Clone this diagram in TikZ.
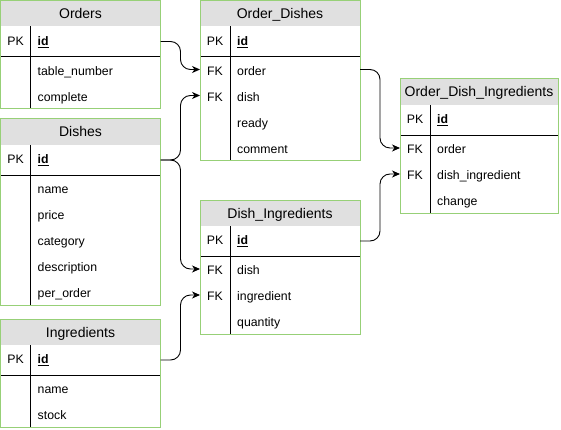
\documentclass[tikz,border=0pt]{standalone}
\usepackage{fontspec}
\setmainfont{Liberation Sans}
\usetikzlibrary{arrows.meta}
\definecolor{bordergreen}{RGB}{151,208,119}
\definecolor{hdrgray}{RGB}{224,224,224}
\tikzset{
  title/.style={font=\fontsize{14}{16}\selectfont, text height=10pt, text depth=0pt, inner sep=0pt},
  keytxt/.style={font=\fontsize{12.3}{14}\selectfont, text height=8.8pt, text depth=0pt, inner sep=0pt},
  fieldtxt/.style={keytxt, anchor=west},
  rowbox/.style={minimum height=26pt, inner sep=0pt, outer sep=0pt, draw=none},
  tblframe/.style={rectangle, draw=bordergreen, line width=1pt, inner sep=0pt, outer sep=0pt, anchor=north west},
  inner/.style={draw=black, line width=0.9pt},
  conn/.style={draw=black, line width=0.9pt, rounded corners=10pt, -{Stealth[length=8pt,width=7pt,inset=2.5pt]}},
}
\newcommand\ertable[6]{% name, x, top, width, title, nrows
  \pgfmathsetmacro\ertbot{#3+56+26*#6}
  \fill[hdrgray] (#2,#3) rectangle ++(#4,26);
  \draw[inner] (#2+30,#3+26) -- (#2+30,\ertbot);
  \draw[inner] (#2,#3+56) -- (#2+#4,#3+56);
  \node[tblframe, minimum width=#4, minimum height=\ertbot-#3] (#1) at (#2,#3) {};
  \node[title] (#1-title) at (#2+#4/2,#3+13) {#5};
}
% primary-key row: text centred on the row
\newcommand\erpkrow[4]{% name, x, centre y, width
  \node[rowbox, minimum width=#4] (#1) at (#2+#4/2,#3) {};
  \node[keytxt] (#1-key) at (#2+15,#3-0.5) {PK};
  \node[fieldtxt] (#1-name) at (#2+37,#3-0.5) {\underline{\textbf{id}}};
}
% field row: text sits slightly below the row centre
\newcommand\errow[6]{% name, x, centre y, width, key, field
  \node[rowbox, minimum width=#4] (#1) at (#2+#4/2,#3) {};
  \node[keytxt] (#1-key) at (#2+15,#3+1.5) {#5};
  \node[fieldtxt] (#1-name) at (#2+37,#3+1.5) {#6};
}
\begin{document}
\begin{tikzpicture}[x=1pt,y=-1pt]
\useasboundingbox (0,0) rectangle (561,430);

% Orders
\ertable{orders}{0.5}{0.5}{160}{Orders}{2}
\erpkrow{orders-id}{0.5}{41.5}{160}
\errow{orders-table_number}{0.5}{69.5}{160}{}{table\_number}
\errow{orders-complete}{0.5}{95.5}{160}{}{complete}

% Dishes
\ertable{dishes}{0.5}{119}{160}{Dishes}{5}
\erpkrow{dishes-id}{0.5}{160}{160}
\errow{dishes-name}{0.5}{188}{160}{}{name}
\errow{dishes-price}{0.5}{214}{160}{}{price}
\errow{dishes-category}{0.5}{240}{160}{}{category}
\errow{dishes-description}{0.5}{266}{160}{}{description}
\errow{dishes-per_order}{0.5}{292}{160}{}{per\_order}

% Ingredients
\ertable{ingr}{0.5}{319}{160}{Ingredients}{2}
\erpkrow{ingr-id}{0.5}{360}{160}
\errow{ingr-name}{0.5}{388}{160}{}{name}
\errow{ingr-stock}{0.5}{414}{160}{}{stock}

% Order_Dishes
\ertable{od}{200}{0.5}{160}{Order\_Dishes}{4}
\erpkrow{od-id}{200}{41.5}{160}
\errow{od-order}{200}{69.5}{160}{FK}{order}
\errow{od-dish}{200}{95.5}{160}{FK}{dish}
\errow{od-ready}{200}{121.5}{160}{}{ready}
\errow{od-comment}{200}{147.5}{160}{}{comment}

% Dish_Ingredients
\ertable{di}{200}{200}{160}{Dish\_Ingredients}{3}
\erpkrow{di-id}{200}{241}{160}
\errow{di-dish}{200}{269}{160}{FK}{dish}
\errow{di-ingredient}{200}{295}{160}{FK}{ingredient}
\errow{di-quantity}{200}{321}{160}{}{quantity}

% Order_Dish_Ingredients
\ertable{odi}{400}{79}{158}{Order\_Dish\_Ingredients}{3}
\erpkrow{odi-id}{400}{120}{158}
\errow{odi-order}{400}{148}{158}{FK}{order}
\errow{odi-dish_ingredient}{400}{174}{158}{FK}{dish\_ingredient}
\errow{odi-change}{400}{200}{158}{}{change}

% connectors
\draw[conn] (orders-id.east) -- ++(20,0) |- (od-order.west);
\draw[conn] (dishes-id.east) -- ++(20,0) |- (od-dish.west);
\draw[conn] (dishes-id.east) -- ++(20,0) |- (di-dish.west);
\draw[conn] (ingr-id.east) -- ++(20,0) |- (di-ingredient.west);
\draw[conn] (od-order.east) -- ++(20,0) |- (odi-order.west);
\draw[conn] (di-id.east) -- ++(20,0) |- (odi-dish_ingredient.west);
\end{tikzpicture}
\end{document}
